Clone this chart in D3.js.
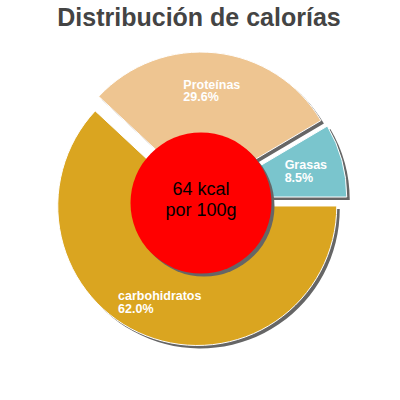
<!DOCTYPE html>
<html>
<head>
<meta charset="utf-8">
<script src="https://cdn.jsdelivr.net/npm/d3@7"></script>
<style>
  html, body { margin: 0; padding: 0; background: #fff; }
</style>
</head>
<body>
<div id="chart"></div>
<script>
// data
const categories = ["carbohidratos", "Proteínas", "Grasas"]
const percents = [62.0, 29.6, 8.5]
const colors = ["#DAA520", "#EEC591", "#7AC5CD"]
const kcal = 64
const title = "Distribución de calorías"

const width = 400, height = 400
const cx = 200, cy = 199
const radius = 139.5
const explode = 7.5

const svg = d3.select("#chart").append("svg")
    .attr("width", width)
    .attr("height", height)
    .style("font-family", "'Liberation Sans', Arial, sans-serif")

svg.append("text")
    .attr("x", 199)
    .attr("y", 26)
    .attr("text-anchor", "middle")
    .attr("font-size", 25)
    .attr("font-weight", "bold")
    .attr("fill", "#444")
    .text(title)

const data = categories.map((c, i) => ({ name: c, value: percents[i], color: colors[i] }))

const pie = d3.pie()
    .sort(null)
    .value(d => d.value)
    .startAngle(Math.PI / 2)
    .endAngle(Math.PI / 2 + 2 * Math.PI)

const arcs = pie(data)

const arc = d3.arc().innerRadius(0).outerRadius(radius)
const labelArc = d3.arc().innerRadius(65).outerRadius(radius)

// offset of each slice along its middle angle
function shift(d) {
    const a = (d.startAngle + d.endAngle) / 2
    return [Math.sin(a) * explode, -Math.cos(a) * explode]
}

const g = svg.append("g").attr("transform", `translate(${cx},${cy})`)

// shadows first
g.selectAll("path.shadow")
    .data(arcs)
    .enter().append("path")
    .attr("class", "shadow")
    .attr("d", arc)
    .attr("fill", "#666")
    .attr("transform", d => {
        const [dx, dy] = shift(d)
        return `translate(${dx + 3},${dy + 3})`
    })

g.selectAll("path.slice")
    .data(arcs)
    .enter().append("path")
    .attr("class", "slice")
    .attr("d", arc)
    .attr("fill", d => d.data.color)
    .attr("stroke", "#fff")
    .attr("stroke-width", 1)
    .attr("transform", d => {
        const [dx, dy] = shift(d)
        return `translate(${dx},${dy})`
    })

// labels, block centred on centroid, lines left aligned
const labels = g.selectAll("g.label")
    .data(arcs)
    .enter().append("g")
    .attr("class", "label")

labels.each(function (d) {
    const lg = d3.select(this)
    const t = lg.append("text")
        .attr("fill", "#fff")
        .attr("font-size", 12.5)
        .attr("font-weight", "bold")
    t.append("tspan").attr("x", 0).attr("y", 0).text(d.data.name)
    t.append("tspan").attr("x", 0).attr("y", 12.5).text(d.data.value.toFixed(1) + "%")
    const w = t.node().getBBox().width
    const [dx, dy] = shift(d)
    const [lx, ly] = labelArc.centroid(d)
    lg.attr("transform", `translate(${lx + dx - w / 2},${ly + dy - 1})`)
})

// centre disc
const cg = svg.append("g").attr("transform", `translate(201,203)`)
cg.append("circle")
    .attr("cx", 3).attr("cy", 3)
    .attr("r", 70.5)
    .attr("fill", "#666")
cg.append("circle")
    .attr("r", 70.5)
    .attr("fill", "#FF0000")
cg.append("text")
    .attr("text-anchor", "middle")
    .attr("font-size", 18)
    .attr("fill", "#000")
    .selectAll("tspan")
    .data([kcal + " kcal", "por 100g"])
    .enter().append("tspan")
    .attr("x", 0)
    .attr("y", (d, i) => -8 + i * 21)
    .text(d => d)
</script>
</body>
</html>
